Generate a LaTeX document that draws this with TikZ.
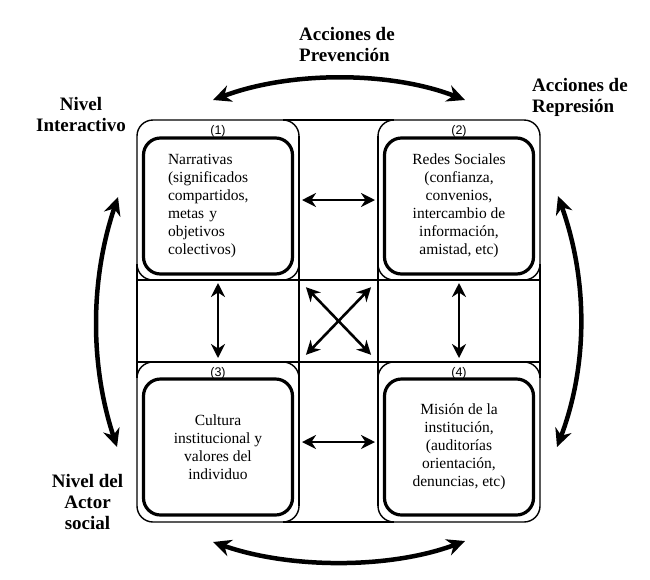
\documentclass[tikz,border=0pt]{standalone}
\usepackage{fontspec}
\setmainfont{Liberation Serif}
\newfontfamily\numfont{Liberation Sans}
\usepackage{tkz-euclide}
\usepackage{tikz}
\usetikzlibrary{positioning,arrows.meta}

\tikzset{
  cell/.style={draw,rounded corners=16pt,line width=1.4pt,minimum width=162pt,minimum height=160pt,inner sep=0pt,outer sep=0pt},
  inbox/.style={draw,rounded corners=17pt,line width=3.2pt,minimum width=149pt,minimum height=136pt,inner sep=0pt,outer sep=0pt,font=\fontsize{15.5}{18}\selectfont,align=center},
  num/.style={font=\numfont\fontsize{12.5}{13}\selectfont,inner sep=0pt},
  side/.style={font=\bfseries\fontsize{19}{21}\selectfont,inner sep=0pt},
  duo/.style={line width=2.6pt,{Stealth[length=14pt,width=14pt]}-{Stealth[length=14pt,width=14pt]}},
  bigarc/.style={line width=4.5pt,{Stealth[length=18pt,width=17pt]}-{Stealth[length=18pt,width=17pt]}}
}

\begin{document}
\begin{tikzpicture}[x=1pt,y=-1pt]
    \useasboundingbox (0,0) rectangle (650,579);
    % celdas
    \node[cell] (c1) at (218,200) {};
    \node[cell,right=79pt of c1] (c2) {};
    \node[cell,below=82pt of c1] (c3) {};
    \node[cell,right=79pt of c3] (c4) {};
    \draw[line width=1.4pt] ([xshift=-16pt]c1.north east) -- ([xshift=16pt]c2.north west)
        ([xshift=-16pt]c3.south east) -- ([xshift=16pt]c4.south west)
        ([yshift=16pt]c1.south west) -- ([yshift=-16pt]c3.north west)
        ([yshift=16pt]c2.south east) -- ([yshift=-16pt]c4.north east)
        (c1.south west) -- (c2.south east)
        (c3.north west) -- (c4.north east)
        ([yshift=-16pt]c1.north east) -- ([yshift=16pt]c3.south east)
        ([yshift=-16pt]c2.north west) -- ([yshift=16pt]c4.south west);
    \node[num,below=5pt of c1.north] (n1) {(1)};
    \node[num,below=5pt of c2.north] (n2) {(2)};
    \node[num,below=5pt of c3.north] (n3) {(3)};
    \node[num,below=5pt of c4.north] (n4) {(4)};
    % cajas
    \node[inbox,below=18pt of c1.north,text width=100pt,align=left] (b1) {Narrativas\\(significados\\compartidos,\\metas y\\objetivos\\colectivos)};
    \node[inbox,below=18pt of c2.north] (b2) {Redes Sociales\\(confianza,\\convenios,\\intercambio de\\información,\\amistad, etc)};
    \node[inbox,below=17pt of c3.north] (b3) {Cultura\\institucional y\\valores del\\individuo};
    \node[inbox,below=17pt of c4.north] (b4) {Misión de la\\institución,\\(auditorías\\orientación,\\denuncias, etc)};
    \draw[duo,shorten <=3pt,shorten >=3pt] (c1) -- (c2);
    \draw[duo,shorten <=3pt,shorten >=3pt] (c3) -- (c4);
    \draw[duo,shorten <=3pt,shorten >=4pt] (c1) -- (c3);
    \draw[duo,shorten <=3pt,shorten >=4pt] (c2) -- (c4);
    \draw[duo,shorten <=10pt,shorten >=10pt] (c1.south east) -- (c4.north west);
    \draw[duo,shorten <=10pt,shorten >=10pt] (c2.south west) -- (c3.north east);
    % flechas curvas
    \tkzDefPoint(213,100){P1}
    \tkzDefPoint(465,100){P2}
    \tkzDefPoint(213,542){P3}
    \tkzDefPoint(465,541){P4}
    \tkzDefPoint(118,197){P5}
    \tkzDefPoint(117,447){P6}
    \tkzDefPoint(558,196){P7}
    \tkzDefPoint(557,447){P8}
    \draw[bigarc] (P1) .. controls (290,71) and (390,71) .. (P2);
    \draw[bigarc] (P3) .. controls (290,569) and (390,569) .. (P4);
    \draw[bigarc] (P5) .. controls (90,280) and (90,365) .. (P6);
    \draw[bigarc] (P7) .. controls (588,280) and (588,365) .. (P8);
    % etiquetas
    \node[side,anchor=north west,align=left] (prev) at (299,27) {Acciones de\\Prevención};
    \node[side,anchor=north west,align=left] (repr) at (532,78) {Acciones de\\Represión};
    \node[side,anchor=north,align=center] (inter) at (81,97) {Nivel\\Interactivo};
    \node[side,anchor=north,align=center] (actor) at (87.5,474) {Nivel del\\Actor\\social};
\end{tikzpicture}
\end{document}
